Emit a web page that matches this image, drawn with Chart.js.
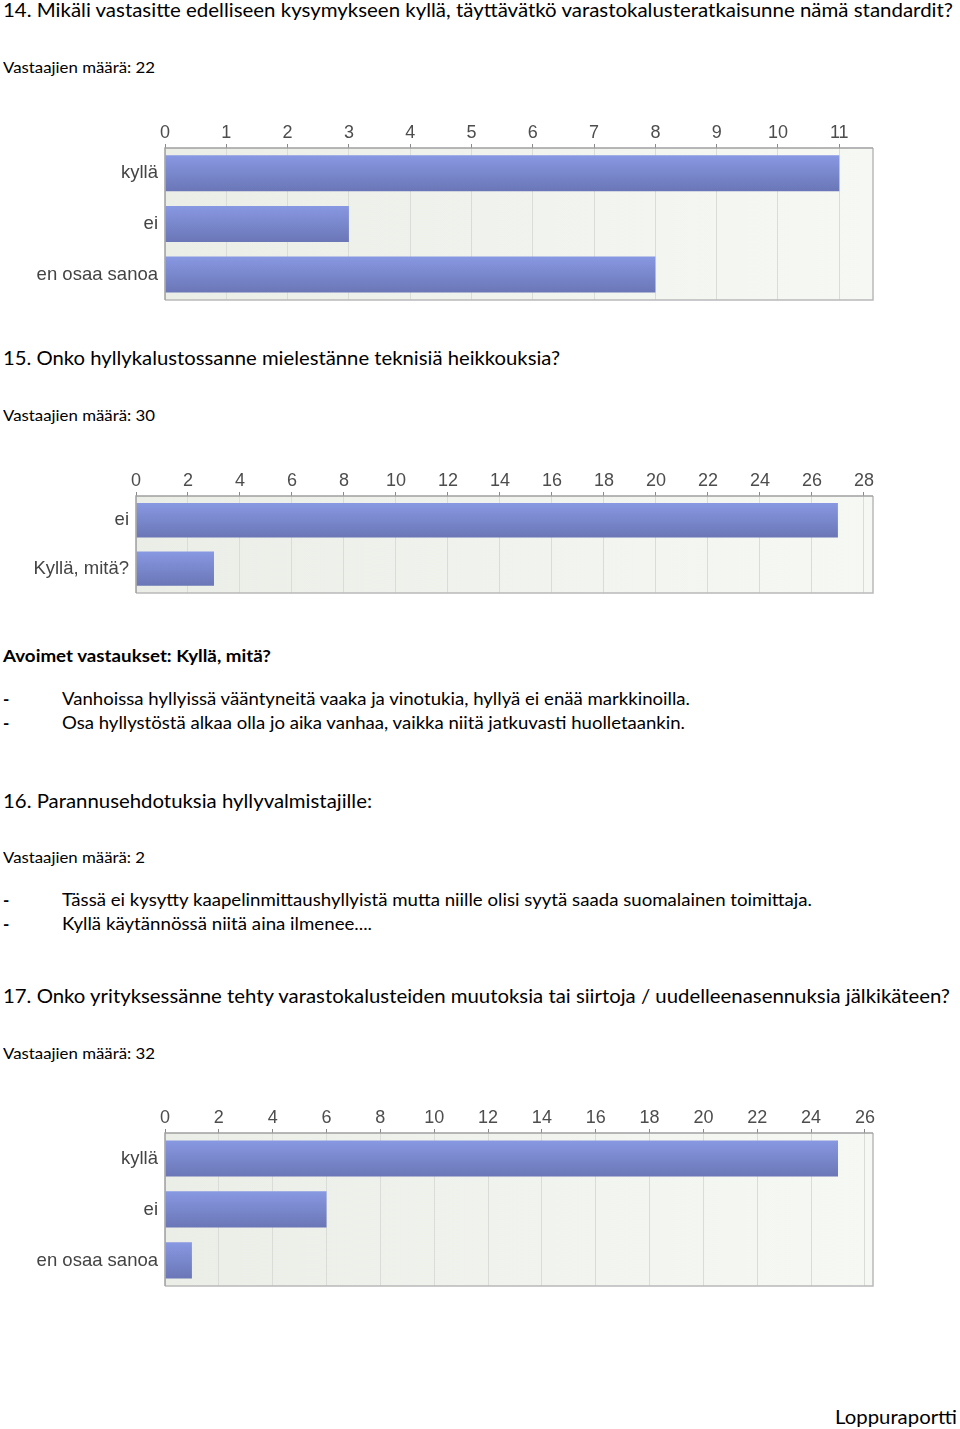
<!DOCTYPE html>
<html>
<head>
<meta charset="utf-8">
<script src="https://cdn.jsdelivr.net/npm/chart.js@4.4.1/dist/chart.umd.min.js"></script>
<style>
  body { margin: 0; background: #fff; width: 960px; height: 1429px; position: relative; overflow: hidden; }
  .t { position: absolute; white-space: nowrap; font-family: Lato, "Open Sans", sans-serif; color: #000; line-height: 1; transform-origin: 0 0; }
  .h { font-size: 20px; }
  .s { font-size: 15px; }
  .b { font-size: 17px; font-weight: bold; }
  .p { font-size: 16.5px; }
  .d { font-size: 17px; font-weight: bold; }
  .c { position: absolute; left: 0; }
</style>
</head>
<body>

<div class="t h" style="left:3px;top:-1px" data-w="950">14. Mikäli vastasitte edelliseen kysymykseen kyllä, täyttävätkö varastokalusteratkaisunne nämä standardit?</div>
<div class="t s" style="left:3px;top:60px" data-w="152">Vastaajien määrä: 22</div>
<div class="c" style="top:105px;width:900px;height:213px"><canvas id="chart14"></canvas></div>

<div class="t h" style="left:3px;top:347px" data-w="557">15. Onko hyllykalustossanne mielestänne teknisiä heikkouksia?</div>
<div class="t s" style="left:3px;top:408px" data-w="152">Vastaajien määrä: 30</div>
<div class="c" style="top:455px;width:900px;height:156px"><canvas id="chart15"></canvas></div>

<div class="t b" style="left:3px;top:647px" data-w="268">Avoimet vastaukset: Kyllä, mitä?</div>
<div class="t d" style="left:3px;top:690px">-</div>
<div class="t p" style="left:62px;top:691px" data-w="628">Vanhoissa hyllyissä vääntyneitä vaaka ja vinotukia, hyllyä ei enää markkinoilla.</div>
<div class="t d" style="left:3px;top:714px">-</div>
<div class="t p" style="left:62px;top:715px" data-w="623">Osa hyllystöstä alkaa olla jo aika vanhaa, vaikka niitä jatkuvasti huolletaankin.</div>

<div class="t h" style="left:3px;top:790px" data-w="369">16. Parannusehdotuksia hyllyvalmistajille:</div>
<div class="t s" style="left:3px;top:850px" data-w="142">Vastaajien määrä: 2</div>
<div class="t d" style="left:3px;top:891px">-</div>
<div class="t p" style="left:62px;top:892px" data-w="750">Tässä ei kysytty kaapelinmittaushyllyistä mutta niille olisi syytä saada suomalainen toimittaja.</div>
<div class="t d" style="left:3px;top:915px">-</div>
<div class="t p" style="left:62px;top:916px" data-w="310">Kyllä käytännössä niitä aina ilmenee....</div>

<div class="t h" style="left:3px;top:985px" data-w="947">17. Onko yrityksessänne tehty varastokalusteiden muutoksia tai siirtoja / uudelleenasennuksia jälkikäteen?</div>
<div class="t s" style="left:3px;top:1046px" data-w="152">Vastaajien määrä: 32</div>
<div class="c" style="top:1090px;width:900px;height:214px"><canvas id="chart17"></canvas></div>

<div class="t h" style="left:835px;top:1406px" data-w="122">Loppuraportti</div>

<script>
const q14Labels = ['kyllä', 'ei', 'en osaa sanoa'];
const q14Values = [11, 3, 8];

const q15Labels = ['ei', 'Kyllä, mitä?'];
const q15Values = [27, 3];

const q17Labels = ['kyllä', 'ei', 'en osaa sanoa'];
const q17Values = [25, 6, 1];

// fit the document text to the widths of the original lines
document.querySelectorAll('.t[data-w]').forEach(el => {
    const w = el.getBoundingClientRect().width;
    el.style.transform = 'scaleX(' + (Number(el.dataset.w) / w) + ')';
});

const barPct = 0.71;

// light plot background and frame like the survey tool
const plotFrame = {
    id: 'plotFrame',
    beforeDraw(chart) {
        const a = chart.chartArea;
        const ctx = chart.ctx;
        const g = ctx.createLinearGradient(a.left, 0, a.right, 0);
        g.addColorStop(0, '#ebeee7');
        g.addColorStop(1, '#f6f8f4');
        ctx.save();
        ctx.fillStyle = g;
        ctx.fillRect(a.left, a.top, a.right - a.left, a.bottom - a.top);
        ctx.restore();
    },
    afterDraw(chart) {
        const a = chart.chartArea;
        const ctx = chart.ctx;
        ctx.save();
        ctx.lineWidth = 1.5;
        ctx.strokeStyle = '#b9b9b9';
        ctx.beginPath();
        ctx.moveTo(a.left, a.bottom);
        ctx.lineTo(a.right, a.bottom);
        ctx.lineTo(a.right, a.top);
        ctx.stroke();
        ctx.strokeStyle = '#a0a0a0';
        ctx.beginPath();
        ctx.moveTo(a.left, a.bottom);
        ctx.lineTo(a.left, a.top);
        ctx.lineTo(a.right, a.top);
        ctx.stroke();
        ctx.restore();
    }
};

function barFill(context) {
    const chart = context.chart;
    const a = chart.chartArea;
    if (!a || !chart.scales.y) return '#7886cc';
    const n = chart.data.labels.length;
    const h = (a.bottom - a.top) / n * barPct;
    const y = chart.scales.y.getPixelForValue(context.dataIndex);
    const g = chart.ctx.createLinearGradient(0, y - h / 2, 0, y + h / 2);
    g.addColorStop(0, '#8898e2');
    g.addColorStop(1, '#6a76b6');
    return g;
}

function makeChart(id, labels, values, axisMax, step, leftW, topH) {
    return new Chart(document.getElementById(id), {
        type: 'bar',
        data: {
            labels: labels,
            datasets: [{
                data: values,
                backgroundColor: barFill,
                borderWidth: 0,
                barPercentage: barPct,
                categoryPercentage: 1
            }]
        },
        options: {
            indexAxis: 'y',
            animation: false,
            maintainAspectRatio: false,
            responsive: true,
            layout: { padding: { left: 0, right: 27, top: 0, bottom: 0 } },
            plugins: {
                legend: { display: false },
                tooltip: { enabled: false }
            },
            scales: {
                x: {
                    position: 'top',
                    min: 0,
                    max: axisMax,
                    grid: { color: '#dadcd8', tickColor: '#8a8a8a', tickLength: 4, lineWidth: 1 },
                    border: { display: false },
                    ticks: {
                        stepSize: step,
                        includeBounds: false,
                        padding: 0,
                        color: '#4d4d4d',
                        font: { family: 'Liberation Sans, Arial, sans-serif', size: 18 }
                    },
                    afterFit(scale) { scale.height = topH; }
                },
                y: {
                    grid: { display: false, drawTicks: false },
                    border: { display: false },
                    ticks: {
                        padding: 7,
                        color: '#444',
                        font: { family: 'Liberation Sans, Arial, sans-serif', size: 18.5 }
                    },
                    afterFit(scale) { scale.width = leftW; }
                }
            }
        },
        plugins: [plotFrame]
    });
}

makeChart('chart14', q14Labels, q14Values, 11.55, 1, 165, 43);
makeChart('chart15', q15Labels, q15Values, 28.35, 2, 136, 41);
makeChart('chart17', q17Labels, q17Values, 26.3, 2, 165, 43);
</script>
</body>
</html>
